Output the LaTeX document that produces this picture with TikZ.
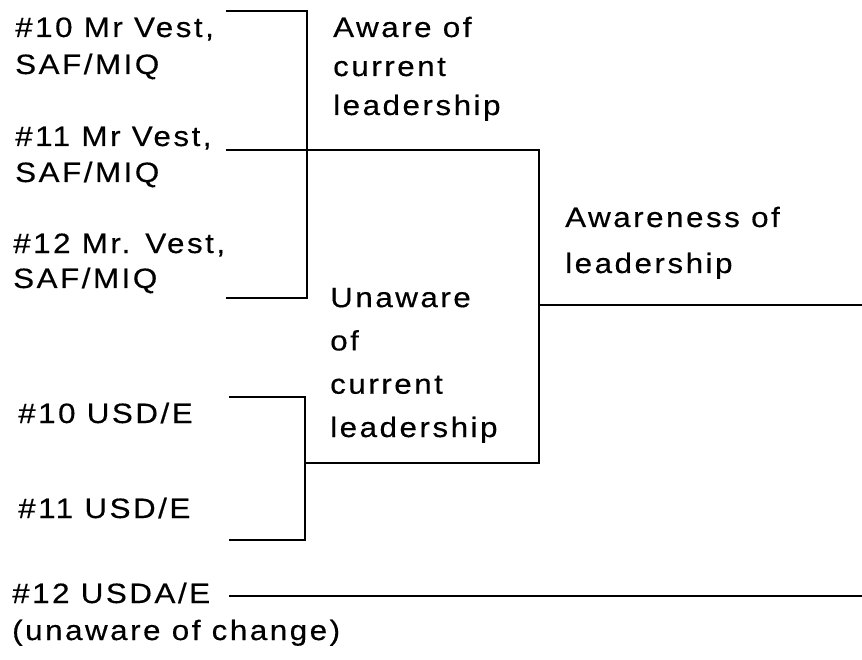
\documentclass[tikz,border=0pt]{standalone}
\usepackage{fontspec}
\newfontfamily\labelfont[LetterSpace=9,FakeStretch=1.12,FakeBold=0.4]{Liberation Sans}
\newcommand\lblsize[1]{\labelfont\fontsize{28}{#1}\selectfont}
\begin{document}
\begin{tikzpicture}[x=1pt,y=-1pt,
  wire/.style={line width=1.7pt,line cap=rect},
  lbl/.style={anchor=base west,inner sep=0pt,align=left}]
\useasboundingbox (0,0) rectangle (862,660);

% source labels (placed by the baseline of their last line)
\node[lbl,font=\lblsize{37}] (v10) at (15,74)  {\#10 Mr Vest,\\SAF/MIQ};
\node[lbl,font=\lblsize{36}] (v11) at (15,182) {\#11 Mr Vest,\\SAF/MIQ};
\node[lbl,font=\lblsize{35}] (v12) at (13,288) {\#12 Mr. Vest,\\SAF/MIQ};
\node[lbl,font=\lblsize{36}] (u10) at (18,423) {\#10 USD/E};
\node[lbl,font=\lblsize{36}] (u11) at (18,518) {\#11 USD/E};
\node[lbl,font=\lblsize{37}] (u12) at (12,640) {\#12 USDA/E\\(unaware of change)};

% group labels
\node[lbl,font=\lblsize{39}] (aware) at (333,115) {Aware of\\current\\leadership};
\node[lbl,font=\lblsize{43.3}] (unaware) at (330,437) {Unaware\\of\\current\\leadership};
\node[lbl,font=\lblsize{46}] (total) at (565,273) {Awareness of\\leadership};

% bracket end points
\coordinate (a1) at (227,11);
\coordinate (a2) at (227,150);
\coordinate (a3) at (227,298);
\coordinate (aj) at (307,150);
\coordinate (b1) at (230,397);
\coordinate (b2) at (230,540);
\coordinate (bj) at (305,463);
\coordinate (tj) at (539,305);
\coordinate (c1) at (230,596);
\coordinate (rt) at (862,305);
\coordinate (rb) at (862,596);

% first level: aware bracket
\draw[wire] (a1) -- (a1 -| aj) -- (a3 -| aj) -- (a3);
% first level: unaware bracket
\draw[wire] (b1) -- (b1 -| bj) -- (b2 -| bj) -- (b2);
% second level: join of both groups
\draw[wire] (a2) -- (a2 -| tj) -- (bj -| tj) -- (bj);
\draw[wire] (tj) -- (rt);
% unchanged case
\draw[wire] (c1) -- (rb);
\end{tikzpicture}
\end{document}
